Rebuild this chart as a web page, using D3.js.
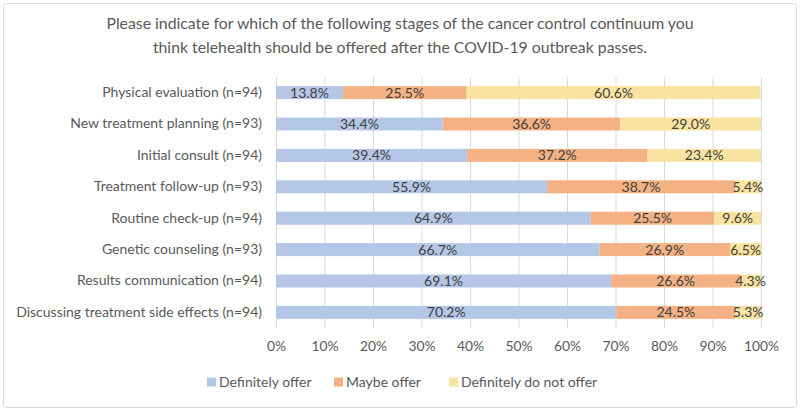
<!DOCTYPE html>
<html>
<head>
<meta charset="utf-8">
<script src="https://cdn.jsdelivr.net/npm/d3@7"></script>
<style>
  body { margin: 0; background: #fff; }
  text { font-family: Lato, "Open Sans", sans-serif; }
</style>
</head>
<body>
<div id="chart"></div>
<script>
const W = 800, H = 411;
const margin = {t: 77, r: 39, b: 83, l: 276};

const titleLines = [
  'Please indicate for which of the following stages of the cancer control continuum you',
  'think telehealth should be offered after the COVID-19 outbreak passes.'
];
const categories = [
  'Physical evaluation (n=94)',
  'New treatment planning (n=93)',
  'Initial consult (n=94)',
  'Treatment follow-up (n=93)',
  'Routine check-up (n=94)',
  'Genetic counseling (n=93)',
  'Results communication (n=94)',
  'Discussing treatment side effects (n=94)'
];
const seriesNames = ['Definitely offer', 'Maybe offer', 'Definitely do not offer'];
const definitely = [13.8, 34.4, 39.4, 55.9, 64.9, 66.7, 69.1, 70.2];
const maybe = [25.5, 36.6, 37.2, 38.7, 25.5, 26.9, 26.6, 24.5];
const notOffer = [60.6, 29.0, 23.4, 5.4, 9.6, 6.5, 4.3, 5.3];
const xTicks = [0, 10, 20, 30, 40, 50, 60, 70, 80, 90, 100];
const colors = ['#b4c7e7', '#f4b183', '#f8e3a0'];

const rows = categories.map(function(c, i){
  return {cat: c, 'Definitely offer': definitely[i], 'Maybe offer': maybe[i], 'Definitely do not offer': notOffer[i]};
});
const stacked = d3.stack().keys(seriesNames)(rows);

const w = W - margin.l - margin.r;
const h = H - margin.t - margin.b;

const svg = d3.select('#chart').append('svg')
  .attr('width', W).attr('height', H);

// outer frame
svg.append('rect')
  .attr('x', 3.5).attr('y', 3.5)
  .attr('width', W - 7).attr('height', H - 7)
  .attr('rx', 3)
  .style('fill', '#fff').style('stroke', '#d9d9d9');

svg.selectAll('.title')
  .data(titleLines)
  .enter().append('text')
  .attr('class', 'title')
  .attr('x', W / 2)
  .attr('y', function(d, i){ return 29 + i * 24; })
  .attr('text-anchor', 'middle')
  .style('font-size', '15.8px')
  .style('fill', '#595959')
  .text(function(d){ return d; });

const plot = svg.append('g')
  .attr('transform', `translate(${margin.l}, ${margin.t})`);

const scaleX = d3.scaleLinear().domain([0, 100]).range([0, w]);
const scaleY = d3.scaleBand().domain(categories).range([0, h]).paddingInner(0.585).paddingOuter(0.29);

// gridlines
const axisX = d3.axisBottom(scaleX)
  .tickValues(xTicks)
  .tickSize(-h)
  .tickPadding(13)
  .tickFormat(function(d){ return d + '%'; });

const gx = plot.append('g')
  .attr('class', 'axis axis-x')
  .attr('transform', `translate(0, ${h})`)
  .call(axisX);
gx.select('.domain').remove();
gx.selectAll('line').style('stroke', '#d9d9d9');
gx.selectAll('text')
  .style('font-size', '13.8px')
  .style('fill', '#595959');

// category labels
const axisY = d3.axisLeft(scaleY).tickSize(0).tickPadding(14);
const gy = plot.append('g')
  .attr('class', 'axis axis-y')
  .call(axisY);
gy.select('.domain').remove();
gy.selectAll('text')
  .style('font-size', '14px')
  .style('fill', '#595959');

// bars
const layers = plot.selectAll('.layer')
  .data(stacked)
  .enter().append('g')
  .attr('class', 'layer')
  .style('fill', function(d, i){ return colors[i]; });

layers.selectAll('rect')
  .data(function(d){ return d; })
  .enter().append('rect')
  .attr('x', function(d){ return scaleX(d[0]); })
  .attr('y', function(d){ return scaleY(d.data.cat); })
  .attr('width', function(d){ return scaleX(d[1]) - scaleX(d[0]); })
  .attr('height', scaleY.bandwidth());

// data labels
layers.selectAll('.label')
  .data(function(d){ return d; })
  .enter().append('text')
  .attr('class', 'label')
  .attr('x', function(d){ return scaleX((d[0] + d[1]) / 2); })
  .attr('y', function(d){ return scaleY(d.data.cat) + scaleY.bandwidth() / 2; })
  .attr('dy', '0.36em')
  .attr('text-anchor', 'middle')
  .style('font-size', '14px')
  .style('fill', '#404040')
  .text(function(d){ return (d[1] - d[0]).toFixed(1) + '%'; });

// legend
const legendX = [207, 334, 449];
const legend = svg.selectAll('.legend')
  .data(seriesNames)
  .enter().append('g')
  .attr('class', 'legend')
  .attr('transform', function(d, i){ return `translate(${legendX[i]}, 382)`; });

legend.append('rect')
  .attr('x', 0).attr('y', -4.5)
  .attr('width', 9).attr('height', 9)
  .style('fill', function(d, i){ return colors[i]; });

legend.append('text')
  .attr('x', 12)
  .attr('dy', '0.36em')
  .style('font-size', '14px')
  .style('fill', '#595959')
  .text(function(d){ return d; });
</script>
</body>
</html>
